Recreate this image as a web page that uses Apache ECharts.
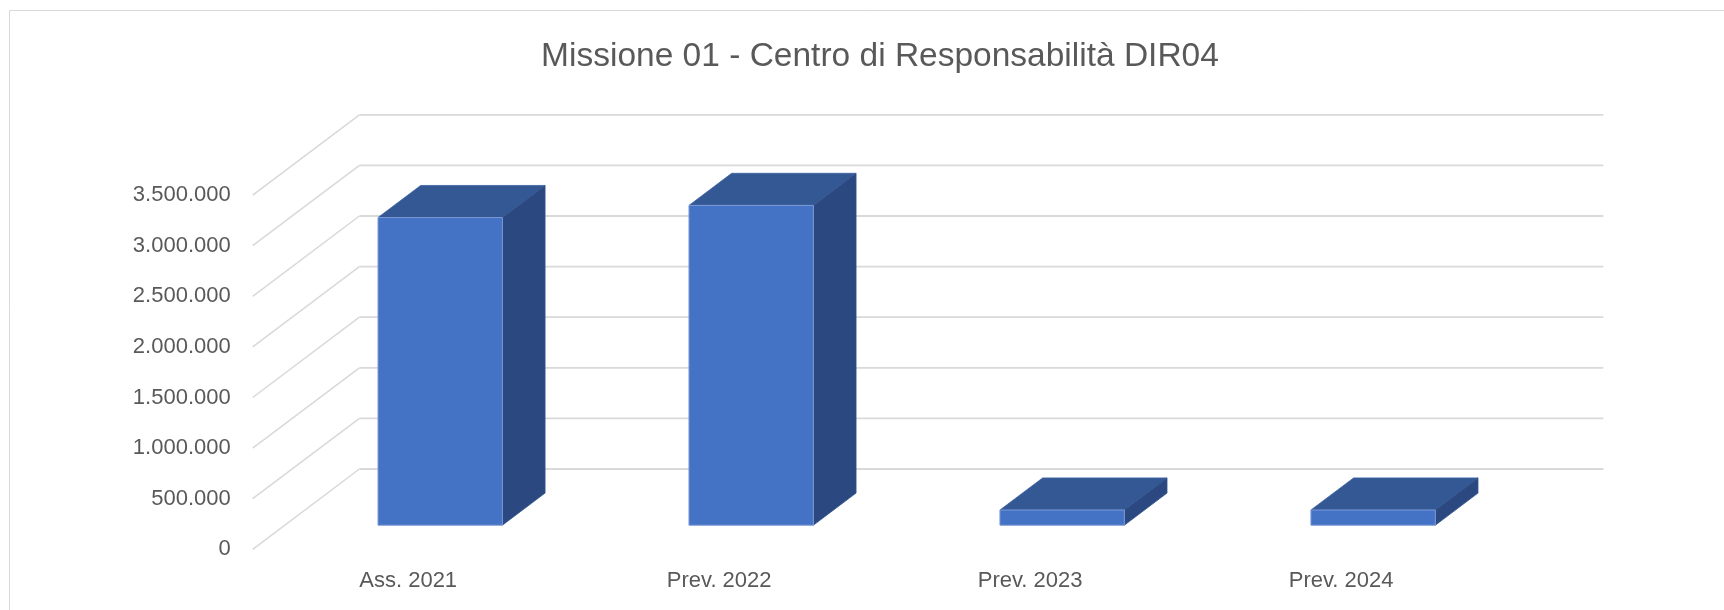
<!DOCTYPE html>
<html>
<head>
<meta charset="utf-8">
<script src="https://cdn.jsdelivr.net/npm/echarts@6/dist/echarts.min.js"></script>
<style>
  html, body { margin: 0; padding: 0; background: #ffffff; }
  #chart { width: 1724px; height: 610px; }
</style>
</head>
<body>
<div id="chart"></div>
<script>
// ---- data ----
const titleText = 'Missione 01 - Centro di Responsabilità DIR04';
const categories = ['Ass. 2021', 'Prev. 2022', 'Prev. 2023', 'Prev. 2024'];
const values = [3040000, 3160000, 150000, 150000];
const tickValues = [0, 500000, 1000000, 1500000, 2000000, 2500000, 3000000, 3500000];

// ---- 3D look (geometry/style only) ----
const DX = 106.7, DY = -80.3;     // depth vector of the plot box
const BAR_D0 = 0.3, BAR_DD = 0.4; // bar depth start / thickness as fraction of box depth
const BAR_W = 0.4;                // bar width as fraction of category band
const GRID_COLOR = '#d9d9d9';
const TEXT_COLOR = '#595959';
const FONT = '"Liberation Sans", Arial, sans-serif';

function fmt(v) {
  return String(v).replace(/\B(?=(\d{3})+(?!\d))/g, '.');
}

const chart = echarts.init(document.getElementById('chart'), null, { renderer: 'canvas' });

const option = {
  animation: false,
  backgroundColor: '#ffffff',
  title: {
    text: titleText,
    left: 875,
    top: 35,
    textAlign: 'center',
    textStyle: { fontFamily: FONT, fontSize: 33.5, fontWeight: 'normal', color: TEXT_COLOR }
  },
  graphic: [{
    type: 'rect',
    shape: { x: 9.5, y: 10.5, width: 1800, height: 800 },
    style: { fill: 'none', stroke: GRID_COLOR, lineWidth: 1 },
    silent: true
  }],
  grid: { left: 252.7, right: 227.4, top: 195.1, bottom: 60.7, containLabel: false },
  xAxis: {
    type: 'category',
    data: categories,
    boundaryGap: true,
    axisLine: { show: false },
    axisTick: { show: false },
    splitLine: { show: false },
    axisLabel: { margin: 21, color: TEXT_COLOR, fontFamily: FONT, fontSize: 22 }
  },
  yAxis: {
    type: 'value',
    min: 0,
    max: 3500000,
    interval: 500000,
    axisLine: { show: false },
    axisTick: { show: false },
    splitLine: { show: false },
    axisLabel: { margin: 22, color: TEXT_COLOR, fontFamily: FONT, fontSize: 22, formatter: fmt }
  },
  series: [
    {
      type: 'custom',
      name: 'walls',
      silent: true,
      z: 1,
      data: tickValues.map(v => [0, v]),
      renderItem: function (params, api) {
        const cs = params.coordSys;
        const v = api.value(1);
        const p = api.coord([0, v]);
        const y = p[1];
        const xl = cs.x, xr = cs.x + cs.width;
        return {
          type: 'group',
          children: [
            { type: 'line', shape: { x1: xl, y1: y, x2: xl + DX, y2: y + DY },
              style: { stroke: GRID_COLOR, lineWidth: 1.5 } },
            { type: 'line', shape: { x1: xl + DX, y1: y + DY, x2: xr + DX, y2: y + DY },
              style: { stroke: GRID_COLOR, lineWidth: 1.8 } }
          ]
        };
      }
    },
    {
      type: 'custom',
      name: 'bars',
      z: 2,
      data: values.map((v, i) => [i, v]),
      renderItem: function (params, api) {
        const i = api.value(0), v = api.value(1);
        const base = api.coord([i, 0]);
        const top = api.coord([i, v]);
        const band = api.size([1, 0])[0];
        const w = band * BAR_W;
        const ox = BAR_D0 * DX, oy = BAR_D0 * DY;
        const dx = BAR_DD * DX, dy = BAR_DD * DY;
        const fl = base[0] - w / 2 + ox, fr = fl + w;
        const fb = base[1] + oy, ft = top[1] + oy;
        return {
          type: 'group',
          children: [
            { type: 'polygon', shape: { points: [[fl, ft], [fr, ft], [fr + dx, ft + dy], [fl + dx, ft + dy]] },
              style: { fill: '#345894', stroke: '#3d62a3', lineWidth: 0.8 } },
            { type: 'polygon', shape: { points: [[fr, ft], [fr + dx, ft + dy], [fr + dx, fb + dy], [fr, fb]] },
              style: { fill: '#2b4980', stroke: '#34548e', lineWidth: 0.8 } },
            { type: 'rect', shape: { x: fl, y: ft, width: w, height: fb - ft },
              style: { fill: '#4472c4', stroke: '#7c9ad6', lineWidth: 1 } }
          ]
        };
      }
    }
  ]
};

chart.setOption(option);
</script>
</body>
</html>
